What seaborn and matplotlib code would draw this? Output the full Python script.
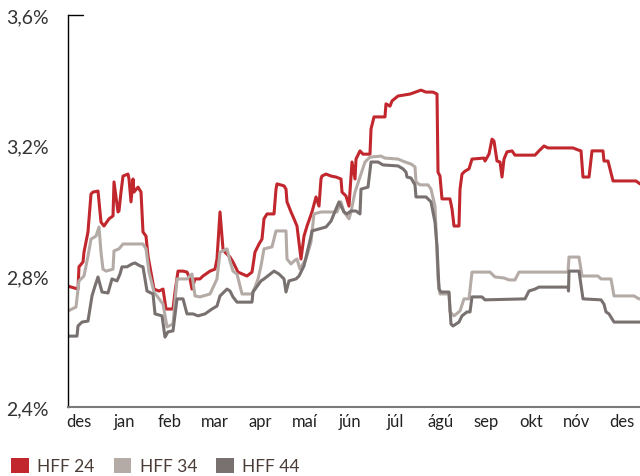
import matplotlib
matplotlib.use("Agg")
import matplotlib.pyplot as plt
from matplotlib.patches import Patch
import seaborn as sns
import pandas as pd

# x in months from the left edge of the axis; values in %
series_names = ["HFF 24", "HFF 34", "HFF 44"]
colors = ["#c1272d", "#b5aba6", "#787170"]
month_labels = ["des", "jan", "feb", "mar", "apr", "maí", "jún", "júl",
                "ágú", "sep", "okt", "nóv", "des"]
month_pos = [0.243 + k for k in range(13)]
y_ticks = [2.4, 2.8, 3.2, 3.6]
y_labels = ["2,4%", "2,8%", "3,2%", "3,6%"]

x24 = [0, 0.221, 0.243, 0.332, 0.354, 0.442, 0.509, 0.553, 0.664, 0.730, 0.796,
       0.907, 0.996, 1.018, 1.106, 1.128, 1.173, 1.217, 1.327, 1.350, 1.394,
       1.438, 1.460, 1.549, 1.615, 1.659, 1.726, 1.770, 1.903, 2.013, 2.102,
       2.146, 2.168, 2.323, 2.367, 2.434, 2.544, 2.633, 2.699, 2.743, 2.810,
       2.920, 2.987, 3.142, 3.252, 3.296, 3.363, 3.429, 3.473, 3.584, 3.650,
       3.761, 3.960, 4.071, 4.137, 4.226, 4.292, 4.336, 4.403, 4.558, 4.602,
       4.624, 4.779, 4.823, 4.845, 4.934, 5.000, 5.066, 5.155, 5.221, 5.288,
       5.398, 5.487, 5.553, 5.597, 5.619, 5.708, 5.819, 5.929, 6.040, 6.062,
       6.150, 6.217, 6.283, 6.350, 6.372, 6.460, 6.527, 6.681, 6.704, 6.770,
       7.013, 7.035, 7.124, 7.168, 7.301, 7.566, 7.810, 7.920, 8.075, 8.164,
       8.186, 8.230, 8.274, 8.451, 8.496, 8.540, 8.650, 8.673, 8.717, 8.783,
       8.872, 8.938, 9.204, 9.226, 9.314, 9.381, 9.425, 9.491, 9.558, 9.602,
       9.646, 9.712, 9.823, 9.889, 10.332, 10.420, 10.531, 10.619, 11.173,
       11.283, 11.350, 11.394, 11.527, 11.593, 11.836, 11.858, 11.947, 12.058,
       12.566, 12.655]
y24 = [2.770, 2.761, 2.829, 2.844, 2.874, 2.936, 3.052, 3.058, 3.061, 2.966, 2.954,
       2.976, 2.985, 3.089, 2.997, 3.000, 3.058, 3.107, 3.113, 3.098, 3.028,
       3.098, 3.058, 3.073, 3.058, 2.936, 2.923, 2.862, 2.761, 2.755, 2.761,
       2.721, 2.700, 2.700, 2.752, 2.816, 2.816, 2.813, 2.792, 2.761, 2.792,
       2.792, 2.801, 2.816, 2.822, 2.853, 2.997, 2.884, 2.874, 2.859, 2.844,
       2.813, 2.801, 2.813, 2.874, 2.899, 2.914, 2.976, 2.991, 2.991, 3.067,
       3.083, 3.077, 3.067, 3.028, 2.997, 2.976, 2.954, 2.853, 2.923, 2.954,
       2.997, 3.043, 3.015, 3.098, 3.107, 3.113, 3.107, 3.104, 3.098, 3.058,
       3.046, 3.015, 3.150, 3.098, 3.159, 3.184, 3.174, 3.174, 3.251, 3.288,
       3.288, 3.328, 3.321, 3.337, 3.352, 3.358, 3.370, 3.364, 3.364, 3.358,
       3.119, 3.107, 3.037, 3.037, 3.006, 2.954, 2.954, 3.067, 3.113, 3.122,
       3.129, 3.159, 3.162, 3.153, 3.174, 3.220, 3.214, 3.153, 3.150, 3.104,
       3.159, 3.181, 3.184, 3.171, 3.171, 3.184, 3.199, 3.193, 3.193,
       3.187, 3.184, 3.104, 3.104, 3.184, 3.184, 3.153, 3.153, 3.092,
       3.092, 3.083]

x34 = [0, 0.177, 0.243, 0.354, 0.442, 0.509, 0.619, 0.686, 0.730, 0.774, 0.841,
       0.996, 1.018, 1.128, 1.217, 1.659, 1.726, 1.792, 1.903, 2.102, 2.190,
       2.323, 2.412, 2.633, 2.743, 2.810, 2.920, 3.142, 3.296, 3.363, 3.518,
       3.584, 3.650, 3.739, 3.850, 4.071, 4.137, 4.204, 4.270, 4.336, 4.513,
       4.602, 4.823, 4.845, 4.934, 5.000, 5.066, 5.133, 5.199, 5.265, 5.376,
       5.442, 5.597, 5.951, 6.040, 6.106, 6.217, 6.261, 6.350, 6.460, 6.571,
       6.681, 6.925, 7.013, 7.301, 7.456, 7.588, 7.677, 7.699, 7.788, 7.965,
       8.031, 8.119, 8.142, 8.186, 8.230, 8.429, 8.451, 8.540, 8.673, 8.761,
       8.872, 8.938, 9.336, 9.447, 9.646, 9.757, 9.889, 9.978, 11.062, 11.084,
       11.305, 11.372, 11.726, 11.792, 12.013, 12.080, 12.522, 12.633, 12.655]
y34 = [2.694, 2.706, 2.786, 2.801, 2.862, 2.914, 2.923, 2.951, 2.874, 2.822, 2.816,
       2.822, 2.878, 2.884, 2.899, 2.899, 2.884, 2.813, 2.752, 2.715, 2.645,
       2.654, 2.792, 2.792, 2.807, 2.740, 2.737, 2.746, 2.792, 2.874, 2.884,
       2.847, 2.816, 2.807, 2.746, 2.746, 2.767, 2.792, 2.832, 2.884, 2.890,
       2.939, 2.939, 2.853, 2.838, 2.847, 2.853, 2.822, 2.838, 2.853, 2.905,
       2.991, 2.997, 2.997, 3.028, 2.997, 2.976, 2.997, 3.058, 3.104, 3.150,
       3.165, 3.168, 3.162, 3.159, 3.150, 3.144, 3.135, 3.089, 3.080, 3.080,
       3.067, 3.015, 2.945, 2.792, 2.746, 2.746, 2.691, 2.679, 2.694, 2.731,
       2.731, 2.813, 2.813, 2.798, 2.795, 2.789, 2.789, 2.813, 2.813, 2.859,
       2.859, 2.801, 2.801, 2.792, 2.792, 2.740, 2.740, 2.731, 2.731]

x44 = [0, 0.199, 0.221, 0.310, 0.442, 0.531, 0.597, 0.664, 0.752, 0.885, 0.973,
       1.084, 1.150, 1.195, 1.305, 1.416, 1.482, 1.593, 1.659, 1.748, 1.881,
       1.925, 2.080, 2.146, 2.212, 2.323, 2.412, 2.544, 2.633, 2.765, 2.876,
       3.031, 3.186, 3.296, 3.363, 3.518, 3.584, 3.650, 3.739, 4.071, 4.093,
       4.270, 4.336, 4.558, 4.668, 4.779, 4.823, 4.889, 5.044, 5.111, 5.221,
       5.376, 5.398, 5.708, 5.819, 5.929, 5.996, 6.106, 6.173, 6.261, 6.372,
       6.460, 6.482, 6.637, 6.704, 6.858, 6.969, 7.301, 7.412, 7.478, 7.500,
       7.588, 7.677, 7.699, 7.920, 8.031, 8.119, 8.164, 8.208, 8.252, 8.429,
       8.473, 8.518, 8.650, 8.717, 8.827, 8.894, 8.938, 9.159, 9.226, 10.111,
       10.199, 10.332, 10.420, 11.062, 11.073, 11.084, 11.305, 11.394, 11.792,
       11.858, 11.903, 11.969, 12.080, 12.655]
y44 = [2.617, 2.617, 2.648, 2.660, 2.663, 2.740, 2.770, 2.798, 2.752, 2.749, 2.792,
       2.786, 2.807, 2.829, 2.829, 2.838, 2.841, 2.832, 2.829, 2.755, 2.746,
       2.685, 2.679, 2.614, 2.630, 2.633, 2.731, 2.731, 2.685, 2.685, 2.679,
       2.685, 2.700, 2.709, 2.740, 2.761, 2.755, 2.737, 2.721, 2.721, 2.752,
       2.786, 2.792, 2.816, 2.807, 2.792, 2.752, 2.786, 2.792, 2.801, 2.832,
       2.923, 2.939, 2.951, 2.969, 3.006, 3.028, 2.997, 2.991, 3.000, 3.000,
       2.991, 3.067, 3.073, 3.150, 3.150, 3.141, 3.138, 3.129, 3.119, 3.104,
       3.101, 3.080, 3.043, 3.043, 3.028, 2.966, 2.893, 2.761, 2.752, 2.752,
       2.654, 2.648, 2.660, 2.679, 2.691, 2.691, 2.737, 2.737, 2.728, 2.731,
       2.755, 2.761, 2.767, 2.767, 2.755, 2.816, 2.816, 2.731, 2.728,
       2.715, 2.691, 2.685, 2.660, 2.660]

df = pd.concat([
    pd.DataFrame({"x": x24, "y": y24, "serie": series_names[0]}),
    pd.DataFrame({"x": x34, "y": y34, "serie": series_names[1]}),
    pd.DataFrame({"x": x44, "y": y44, "serie": series_names[2]}),
], ignore_index=True)

sns.set_theme(style="white")
plt.rcParams["font.family"] = ["Lato", "DejaVu Sans"]

fig = plt.figure(figsize=(6.4, 4.77), dpi=100)
ax = fig.add_axes([68 / 640, 69 / 477, 572 / 640, 392 / 477])

sns.lineplot(data=df, x="x", y="y", hue="serie", hue_order=series_names,
             palette=colors, estimator=None, sort=False, linewidth=2.2,
             legend=False, ax=ax)

ax.set_xlim(0, 12.655)
ax.set_ylim(2.4, 3.6)
ax.set_xticks(month_pos)
ax.set_xticklabels(month_labels, fontsize=12, color="#222222")
ax.set_yticks(y_ticks)
ax.set_yticklabels(y_labels, fontsize=14, color="#333333")
ax.tick_params(axis="y", length=0, pad=14)
ax.tick_params(axis="x", length=0, pad=4)
ax.set_xlabel("")
ax.set_ylabel("")

for s in ["top", "right"]:
    ax.spines[s].set_visible(False)
ax.spines["left"].set_color("#000000")
ax.spines["left"].set_linewidth(1.0)
ax.spines["bottom"].set_color("#7a7a7a")
ax.spines["bottom"].set_linewidth(1.5)
ax.axhline(3.6, xmin=0, xmax=15 / 572, color="#000000", lw=1.0, clip_on=False)

handles = [Patch(facecolor=c, edgecolor="none", label=n) for c, n in zip(colors, series_names)]
fig.legend(handles=handles, loc="lower left", bbox_to_anchor=(-1 / 640, -0.022),
           ncol=3, frameon=False, fontsize=12.5, handlelength=1.0, handleheight=1.0,
           handletextpad=0.5, columnspacing=1.1, labelcolor="#4a3c36",
           borderaxespad=0.3)

fig.savefig("out.png", dpi=100)
